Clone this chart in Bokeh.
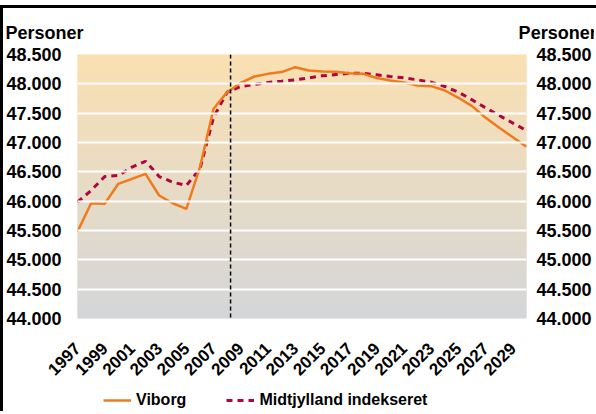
import math
import numpy as np
from bokeh.plotting import figure
from bokeh.layouts import column
from bokeh.models import (Range1d, LinearAxis, FixedTicker, Span,
                          Legend, LegendItem, ColumnDataSource)
from bokeh.embed import file_html
from bokeh.resources import INLINE

# ---- data ----
years = list(range(1997, 2031))
viborg = [45480, 45965, 45955, 46296, 46381, 46466, 46097, 45965, 45870, 46579,
          47574, 47858, 48017, 48125, 48170, 48200, 48284, 48227, 48210, 48205,
          48180, 48170, 48100, 48057, 48023, 47972, 47960, 47886, 47762, 47620,
          47420, 47250, 47090, 46930]
midtjylland = [45983, 46182, 46420, 46437, 46580, 46680, 46420, 46324, 46267, 46551,
               47430, 47858, 47955, 47990, 48023, 48045, 48068, 48102, 48136, 48159,
               48180, 48180, 48153, 48125, 48102, 48068, 48028, 47955, 47858, 47727,
               47590, 47460, 47330, 47205]
x_tick_years = list(range(1997, 2030, 2))
y_ticks = [44000, 44500, 45000, 45500, 46000, 46500, 47000, 47500, 48000, 48500]
y_tick_labels = ["44.000", "44.500", "45.000", "45.500", "46.000", "46.500",
                 "47.000", "47.500", "48.000", "48.500"]
forecast_start = 2008.25
unit_label = "Personer"
series_names = ["Viborg", "Midtjylland indekseret"]

FONT = "Liberation Sans"
ORANGE = "#f07a1c"
CRIMSON = "#b0063f"

p = figure(frame_width=449, frame_height=264, output_backend="svg", toolbar_location=None,
           x_range=Range1d(years[0], years[-1]), y_range=Range1d(y_ticks[0], y_ticks[-1]),
           min_border_left=0, min_border_right=0, min_border_top=44, min_border_bottom=0)
p.outline_line_color = None
p.background_fill_color = "white"
p.border_fill_color = "white"

# unit label above both value axes (one title line)
p.title.text = unit_label + "\u00a0" * 87 + unit_label
p.title.align = "left"
p.title.offset = -72
p.title.standoff = 24
p.title.text_font = FONT
p.title.text_font_style = "bold"
p.title.text_font_size = "18px"
p.title.text_color = "black"

# gradient background (styling)
n = 90
edges = np.linspace(y_ticks[0], y_ticks[-1], n + 1)
top_c = np.array([250, 224, 178])
bot_c = np.array([212, 214, 216])
cols = []
for i in range(n):
    t = (i + 0.5) / n
    c = bot_c + (top_c - bot_c) * t
    cols.append("#%02x%02x%02x" % tuple(int(round(v)) for v in c))
p.quad(left=years[0], right=years[-1], bottom=edges[:-1], top=edges[1:],
       fill_color=cols, line_color=cols, line_width=1)

# grid
p.xgrid.visible = False
p.ygrid.ticker = FixedTicker(ticks=y_ticks[1:-1])
p.ygrid.grid_line_color = "white"
p.ygrid.grid_line_width = 2
p.ygrid.level = "glyph"

src = ColumnDataSource(dict(x=years, v=viborg, m=midtjylland))
p.line("x", "m", source=src, line_color=CRIMSON, line_width=3, line_dash="6 5")
p.line("x", "v", source=src, line_color=ORANGE, line_width=2.5)

p.add_layout(Span(location=forecast_start, dimension="height", line_color="black",
                  line_width=1.5, line_dash="4 3"))

# axes
right_axis = LinearAxis()
p.add_layout(right_axis, "right")
for ax in p.yaxis:
    ax.ticker = FixedTicker(ticks=y_ticks)
    ax.major_label_overrides = {t: l for t, l in zip(y_ticks, y_tick_labels)}
    ax.axis_line_color = None
    ax.major_tick_line_color = None
    ax.minor_tick_line_color = None
    ax.major_tick_out = 0
    ax.major_tick_in = 0
    ax.minor_tick_out = 0
    ax.minor_tick_in = 0
    ax.major_label_text_font = FONT
    ax.major_label_text_font_style = "bold"
    ax.major_label_text_font_size = "18px"
    ax.major_label_text_color = "black"
p.yaxis[0].major_label_standoff = 16
right_axis.major_label_standoff = 10

xa = p.xaxis[0]
xa.ticker = FixedTicker(ticks=x_tick_years)
xa.major_label_overrides = {y: str(y) for y in x_tick_years}
xa.major_label_orientation = math.pi / 4
xa.axis_line_color = None
xa.major_tick_line_color = None
xa.minor_tick_line_color = None
xa.major_tick_out = 0
xa.major_tick_in = 0
xa.minor_tick_out = 0
xa.minor_tick_in = 0
xa.major_label_text_font = FONT
xa.major_label_text_font_style = "bold"
xa.major_label_text_font_size = "17px"
xa.major_label_text_color = "black"
xa.major_label_standoff = 27

# legend strip below the chart (proxy renderers carry the series styles)
LW, LH = 593, 28
lg = figure(width=LW, height=LH, output_backend="svg", toolbar_location=None,
            x_axis_type=None, y_axis_type=None,
            x_range=Range1d(0, LW), y_range=Range1d(0, LH),
            min_border=0)
lg.outline_line_color = None
lg.background_fill_color = "white"
lg.border_fill_color = "white"
nan = float("nan")
lr1 = lg.line(x=[nan], y=[nan], line_color=ORANGE, line_width=2.5)
lr2 = lg.line(x=[nan], y=[nan], line_color=CRIMSON, line_width=3, line_dash="6 5")
legend = Legend(items=[LegendItem(label=series_names[0], renderers=[lr1]),
                       LegendItem(label=series_names[1], renderers=[lr2])],
                orientation="horizontal", location=(26, 2),
                border_line_color=None, background_fill_alpha=0,
                label_text_font=FONT, label_text_font_style="bold",
                label_text_font_size="16px", label_text_color="black",
                glyph_width=28, glyph_height=16,
                label_standoff=5, spacing=40, padding=2, margin=0)
lg.add_layout(legend, "center")

layout = column(p, lg, spacing=0)
layout.styles = {"margin-top": "5px", "border-top": "3px solid black",
                 "border-left": "3px solid black"}

open("out.html", "w").write(file_html(layout, INLINE))
